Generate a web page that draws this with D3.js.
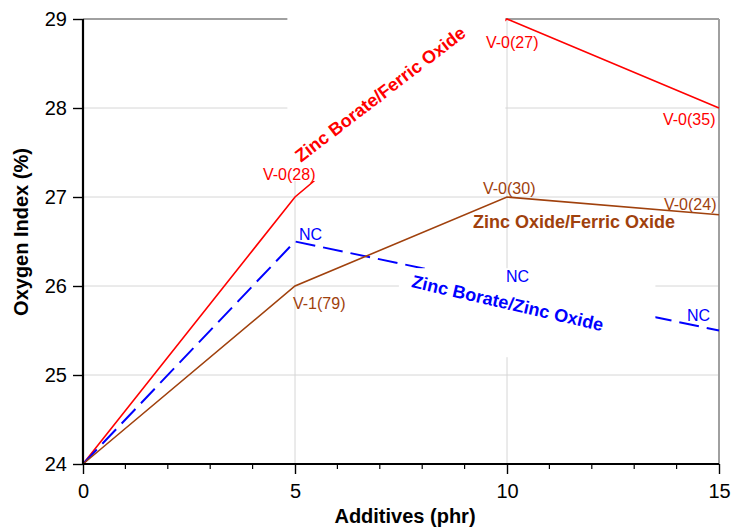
<!DOCTYPE html>
<html>
<head>
<meta charset="utf-8">
<script src="https://cdn.jsdelivr.net/npm/d3@7"></script>
<style>
  html, body { margin: 0; padding: 0; background: #fff; }
  svg { display: block; font-family: "Liberation Sans", Arial, sans-serif; }
</style>
</head>
<body>
<svg id="chart" width="731" height="529"></svg>
<script>
// ---- data ----
const additives = [0, 5, 10, 15];
const zincBorateFerric = [24, 27, 29, 28];
const zincOxideFerric = [24, 26, 27, 26.8];
const zincBorateZincOxide = [24, 26.5, 26.0, 25.5];
const zbfLabels = [null, "V-0(28)", "V-0(27)", "V-0(35)"];
const zofLabels = [null, "V-1(79)", "V-0(30)", "V-0(24)"];
const zbzLabels = [null, "NC", "NC", "NC"];
const xTicks = [0, 5, 10, 15];
const yTicks = [24, 25, 26, 27, 28, 29];
const xTitle = "Additives (phr)";
const yTitle = "Oxygen Index (%)";

// ---- layout / style ----
const W = 731, H = 529;
const m = { left: 83, right: 12, top: 19, bottom: 65 };
const svg = d3.select("#chart");
const x = d3.scaleLinear().domain([0, 15]).range([m.left, W - m.right]);
const y = d3.scaleLinear().domain([24, 29]).range([H - m.bottom, m.top]);

const series = [
  { name: "Zinc Borate/Ferric Oxide", values: zincBorateFerric, labels: zbfLabels, color: "#ff0000", width: 1.6, dash: null,
    offsets: [null, [-32, -17], [-21, 29], [-56, 17]],
    title: { x: 7.10, y: 28.10, rot: -37.5 },
    mask: { x0: 4.82, x1: 9.96, y0: 27.18, y1: 29.6 } },
  { name: "Zinc Borate/Zinc Oxide", values: zincBorateZincOxide, labels: zbzLabels, color: "#0000ff", width: 2, dash: "20,8",
    offsets: [null, [4, -2], [-1, -4], [-32, -10]],
    title: { x: 9.98, y: 25.74, rot: 13 },
    mask: { x0: 7.45, x1: 13.5, y0: 25.2, y1: 26.2 } },
  { name: "Zinc Oxide/Ferric Oxide", values: zincOxideFerric, labels: zofLabels, color: "#a0410d", width: 1.6, dash: null,
    offsets: [null, [-2, 23], [-24, -3], [-55, -5]],
    title: { x: 11.58, y: 26.65, rot: 0 },
    mask: null }
];

// gridlines
const grid = svg.append("g");
grid.selectAll("line.h").data(yTicks.filter(v => v > 24 && v < 29)).enter().append("line")
  .attr("x1", x(0)).attr("x2", x(15)).attr("y1", d => y(d)).attr("y2", d => y(d))
  .attr("stroke", "#d6d6d6").attr("stroke-width", 1);
grid.selectAll("line.v").data(xTicks.filter(v => v > 0 && v < 15)).enter().append("line")
  .attr("x1", d => x(d)).attr("x2", d => x(d)).attr("y1", y(24)).attr("y2", y(29))
  .attr("stroke", "#d6d6d6").attr("stroke-width", 1);

// frame top/right
svg.append("line").attr("x1", x(0)).attr("x2", x(15)).attr("y1", y(29)).attr("y2", y(29))
  .attr("stroke", "#a0a0a0").attr("stroke-width", 2);
svg.append("line").attr("x1", x(15)).attr("x2", x(15)).attr("y1", y(29)).attr("y2", y(24))
  .attr("stroke", "#a0a0a0").attr("stroke-width", 2);

// lines
const line = d3.line().x((d, i) => x(additives[i])).y(d => y(d));
series.forEach(s => {
  svg.append("path").datum(s.values)
    .attr("d", line).attr("fill", "none")
    .attr("stroke", s.color).attr("stroke-width", s.width)
    .attr("stroke-dasharray", s.dash)
    .attr("stroke-linejoin", "miter");
});

// label masks (white boxes behind series titles)
series.filter(s => s.mask).forEach(s => {
  svg.append("rect")
    .attr("x", x(s.mask.x0)).attr("y", y(s.mask.y1))
    .attr("width", x(s.mask.x1) - x(s.mask.x0))
    .attr("height", y(s.mask.y0) - y(s.mask.y1))
    .attr("fill", "#fff");
});

// axes
const xAxis = d3.axisBottom(x).tickValues(xTicks).tickSize(10).tickPadding(10).tickFormat(d3.format("d"));
const gx = svg.append("g").attr("transform", `translate(0,${y(24)})`).call(xAxis);
const yAxis = d3.axisLeft(y).tickValues(yTicks).tickSize(10).tickPadding(6).tickFormat(d3.format("d"));
const gy = svg.append("g").attr("transform", `translate(${x(0)},0)`).call(yAxis);
[gx, gy].forEach(g => {
  g.select(".domain").attr("stroke", "#000").attr("stroke-width", 2.2);
  g.selectAll(".tick line").attr("stroke", "#000").attr("stroke-width", 1.4);
  g.selectAll(".tick text").attr("font-size", 20).attr("fill", "#000")
    .attr("font-family", "Liberation Sans, Arial, sans-serif");
});
gx.select(".domain").attr("d", `M${x(0)},0H${x(15)}`);
gy.select(".domain").attr("d", `M0,${y(24)}V${y(29)}`);
// minor x ticks
gx.selectAll("line.minor").data(d3.range(0, 16).filter(v => v % 5 !== 0)).enter().append("line")
  .attr("class", "minor").attr("x1", d => x(d)).attr("x2", d => x(d))
  .attr("y1", 0).attr("y2", 5).attr("stroke", "#000").attr("stroke-width", 1.2);

// axis titles
svg.append("text").attr("x", 405).attr("y", 523).attr("text-anchor", "middle")
  .attr("font-size", 20).attr("font-weight", "bold").text(xTitle);
svg.append("text").attr("transform", "translate(28,232) rotate(-90)").attr("text-anchor", "middle")
  .attr("font-size", 20).attr("font-weight", "bold").text(yTitle);

// series titles
series.forEach(s => {
  svg.append("text")
    .attr("transform", `translate(${x(s.title.x)},${y(s.title.y)}) rotate(${s.title.rot})`)
    .attr("text-anchor", "middle").attr("font-size", 18).attr("font-weight", "bold")
    .attr("fill", s.color).text(s.name);
});

// point labels
series.forEach(s => {
  s.labels.forEach((t, i) => {
    if (!t) return;
    svg.append("text")
      .attr("x", x(additives[i]) + s.offsets[i][0])
      .attr("y", y(s.values[i]) + s.offsets[i][1])
      .attr("font-size", 16).attr("fill", s.color).text(t);
  });
});
</script>
</body>
</html>
